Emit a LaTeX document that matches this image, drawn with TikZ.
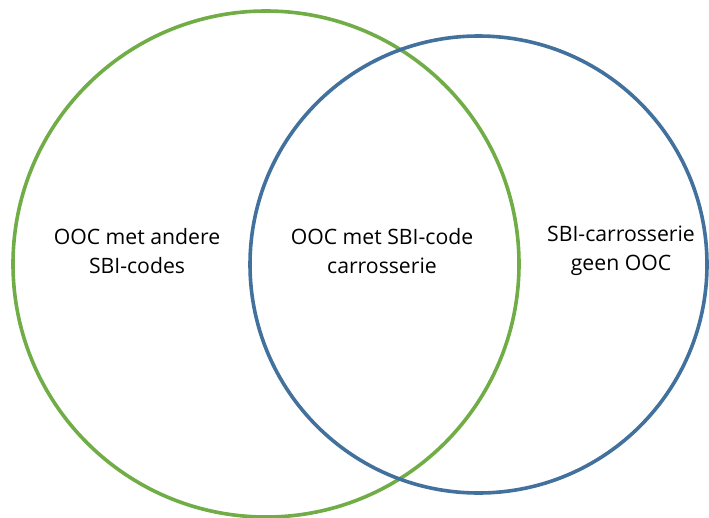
\documentclass[tikz,border=0pt]{standalone}
\usepackage{fontspec}
\setmainfont{Open Sans}
\definecolor{vgreen}{HTML}{70AD47}
\definecolor{vblue}{HTML}{41719C}
\begin{document}
\begin{tikzpicture}[x=1pt,y=-1pt,
  ring/.style={line width=3.6pt},
  lbl/.style={align=center,font=\fontsize{21.2}{29}\selectfont,text=black,inner sep=0pt}]
\useasboundingbox (0,0) rectangle (709,517);
\draw[ring,vgreen] (266,264) circle[radius=253];
\draw[ring,vblue] (478.5,264.5) circle[radius=228.5];
\node[lbl] (left) at (137,251) {OOC met andere\\SBI-codes};
\node[lbl] (mid) at (382,251) {OOC met SBI-code\\carrosserie};
\node[lbl] (right) at (621,251) {SBI-carrosserie\\geen OOC};
\end{tikzpicture}
\end{document}
